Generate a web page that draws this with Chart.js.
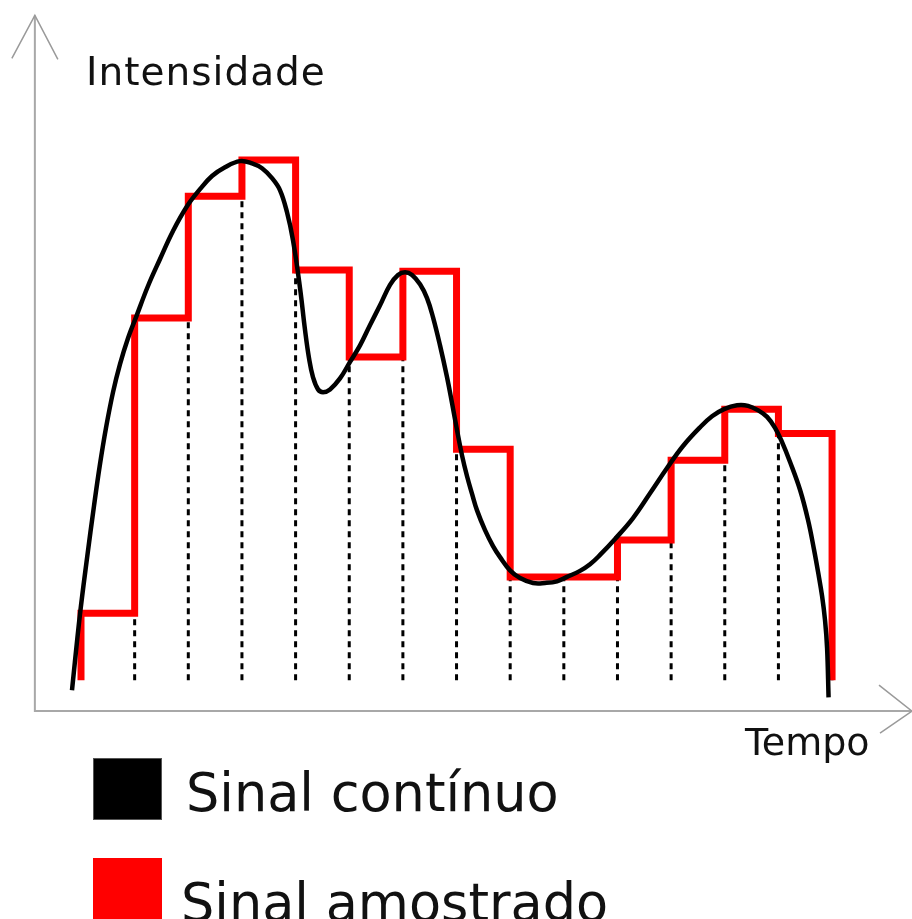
<!DOCTYPE html>
<html>
<head>
<meta charset="utf-8">
<script src="https://cdn.jsdelivr.net/npm/chart.js@4/dist/chart.umd.min.js"></script>
<style>
  html, body { margin: 0; padding: 0; background: #ffffff; }
  #wrap { position: relative; width: 912px; height: 919px; overflow: hidden; }
  canvas { display: block; }
</style>
</head>
<body>
<div id="wrap"><canvas id="c" width="912" height="919"></canvas></div>
<script>
// ---- Data (time in sample periods, intensity in arbitrary units) ----
const sampleTimes = [0, 1, 2, 3, 4, 5, 6, 7, 8, 9, 10, 11, 12, 13];
const sampleLevels = [1.78, 7.15, 9.36, 10.02, 8.02, 6.44, 8.00, 4.76, 2.44, 2.44, 3.11, 4.56, 5.49, 5.05];
const holdEnd = 14;
const baseLevel = 0.56;

const curveT = [-0.168, -0.019, 0.112, 0.242, 0.354, 0.466, 0.597, 0.727, 0.876, 1.025,
  1.249, 1.473, 1.715, 1.976, 2.218, 2.442, 2.684, 2.964, 3.188, 3.374,
  3.561, 3.710, 3.840, 3.952, 4.083, 4.176, 4.250, 4.325, 4.418, 4.511,
  4.642, 4.828, 5.015, 5.201, 5.388, 5.574, 5.760, 5.909, 6.040, 6.171,
  6.320, 6.450, 6.562, 6.692, 6.823, 6.916, 7.009, 7.102, 7.196, 7.289,
  7.382, 7.531, 7.680, 7.811, 7.997, 8.184, 8.426, 8.650, 8.874, 9.060,
  9.302, 9.489, 9.675, 9.955, 10.290, 10.607, 10.924, 11.222, 11.539, 11.763,
  11.987, 12.229, 12.434, 12.621, 12.789, 12.937, 13.068, 13.217, 13.404, 13.553,
  13.665, 13.739, 13.814, 13.869, 13.907, 13.935];
const curveV = [0.38, 1.76, 2.78, 3.73, 4.49, 5.15, 5.80, 6.31, 6.78, 7.16,
  7.73, 8.22, 8.73, 9.18, 9.49, 9.73, 9.89, 10.00, 9.96, 9.87,
  9.69, 9.47, 9.07, 8.56, 7.69, 6.93, 6.42, 6.07, 5.85, 5.80,
  5.85, 6.05, 6.35, 6.65, 7.02, 7.38, 7.75, 7.93, 7.98, 7.93,
  7.76, 7.51, 7.16, 6.65, 6.07, 5.60, 5.11, 4.65, 4.27, 3.95,
  3.65, 3.29, 3.00, 2.80, 2.56, 2.42, 2.33, 2.33, 2.36, 2.44,
  2.55, 2.67, 2.84, 3.13, 3.51, 3.96, 4.42, 4.82, 5.16, 5.36,
  5.49, 5.56, 5.55, 5.47, 5.35, 5.15, 4.89, 4.53, 4.02, 3.47,
  2.93, 2.53, 2.09, 1.65, 1.15, 0.25];

const yAxisLabel = 'Intensidade';
const xAxisLabel = 'Tempo';
const legendLabels = ['Sinal contínuo', 'Sinal amostrado'];
const legendColors = ['#000000', '#ff0000'];

// ---- Build datasets from the arrays ----
const curveData = curveT.map((t, i) => ({ x: t, y: curveV[i] }));

const stepData = [{ x: sampleTimes[0], y: baseLevel }];
sampleTimes.forEach((t, i) => stepData.push({ x: t, y: sampleLevels[i] }));
stepData.push({ x: holdEnd, y: sampleLevels[sampleLevels.length - 1] });
stepData.push({ x: holdEnd, y: baseLevel });

const dashData = [];
const dashTimes = sampleTimes.slice(1).concat([holdEnd]);
dashTimes.forEach((t, i) => {
  const lvl = i + 1 < sampleLevels.length ? sampleLevels[i + 1] : sampleLevels[sampleLevels.length - 1];
  dashData.push({ x: t, y: baseLevel });
  dashData.push({ x: t, y: lvl });
  dashData.push({ x: t, y: null });
});

// ---- Decorations: arrowed axes, axis titles, legend ----
const AXIS_T = -0.86;     // time where the vertical axis sits
const AXIS_V = 0;         // intensity where the horizontal axis sits
const Y_TIP = 12.65;      // top of vertical arrow
const X_TIP = 15.49;      // right of horizontal arrow

const decor = {
  id: 'decor',
  beforeDatasetsDraw(chart) {
    const { ctx, scales: { x, y } } = chart;
    const ax = x.getPixelForValue(AXIS_T);
    const ay = y.getPixelForValue(AXIS_V);
    const yTop = y.getPixelForValue(Y_TIP);
    const xRight = x.getPixelForValue(X_TIP);
    ctx.save();
    ctx.strokeStyle = '#a8a8a8';
    ctx.lineWidth = 2;
    ctx.beginPath();
    ctx.moveTo(ax, yTop);
    ctx.lineTo(ax, ay);
    ctx.lineTo(xRight, ay);
    ctx.stroke();
    ctx.strokeStyle = '#9a9a9a';
    ctx.lineWidth = 1.5;
    ctx.beginPath();
    ctx.moveTo(ax - 23, yTop + 43);
    ctx.lineTo(ax, yTop);
    ctx.lineTo(ax + 23, yTop + 44);
    ctx.stroke();
    ctx.beginPath();
    ctx.moveTo(xRight - 33, ay - 26);
    ctx.lineTo(xRight, ay);
    ctx.lineTo(xRight - 32, ay + 22);
    ctx.stroke();
    ctx.restore();
  },
  afterDraw(chart) {
    const { ctx } = chart;
    ctx.save();
    ctx.fillStyle = '#111111';
    ctx.textBaseline = 'alphabetic';
    ctx.textAlign = 'left';
    ctx.font = '39px "DejaVu Sans"';
    try { ctx.letterSpacing = '1px'; } catch (e) {}
    ctx.fillText(yAxisLabel, 86, 85);
    try { ctx.letterSpacing = '0px'; } catch (e) {}
    ctx.font = '38px "DejaVu Sans"';
    ctx.fillText(xAxisLabel, 745, 755);

    // legend
    const boxes = [{ bx: 93, by: 758, tx: 186, ty: 811 }, { bx: 93, by: 858, tx: 181, ty: 921 }];
    legendLabels.forEach((lab, i) => {
      const b = boxes[i];
      ctx.fillStyle = legendColors[i];
      ctx.fillRect(b.bx, b.by, 69, 62);
      if (i === 0) {
        ctx.strokeStyle = '#555555';
        ctx.lineWidth = 1;
        ctx.strokeRect(b.bx + 0.5, b.by + 0.5, 68, 61);
      }
      ctx.fillStyle = '#111111';
      ctx.font = '52.5px "DejaVu Sans"';
      ctx.fillText(lab, b.tx, b.ty);
    });
    ctx.restore();
  }
};

new Chart(document.getElementById('c'), {
  type: 'line',
  data: {
    datasets: [
      {
        label: legendLabels[0],
        data: curveData,
        borderColor: '#000000',
        borderWidth: 4.5,
        pointRadius: 0,
        tension: 0.4,
        fill: false,
        order: 1
      },
      {
        label: legendLabels[1],
        data: stepData,
        borderColor: '#ff0000',
        borderWidth: 7,
        pointRadius: 0,
        stepped: 'before',
        borderJoinStyle: 'miter',
        borderCapStyle: 'butt',
        fill: false,
        order: 2
      },
      {
        label: 'amostras',
        data: dashData,
        borderColor: '#000000',
        borderWidth: 3,
        borderDash: [6, 5],
        pointRadius: 0,
        spanGaps: false,
        fill: false,
        order: 3
      }
    ]
  },
  options: {
    responsive: false,
    animation: false,
    events: [],
    layout: { padding: 0 },
    scales: {
      x: { type: 'linear', min: -1.51, max: 15.49, display: false },
      y: { type: 'linear', min: -3.78, max: 12.93, display: false }
    },
    plugins: {
      legend: { display: false },
      tooltip: { enabled: false }
    }
  },
  plugins: [decor]
});
</script>
</body>
</html>
